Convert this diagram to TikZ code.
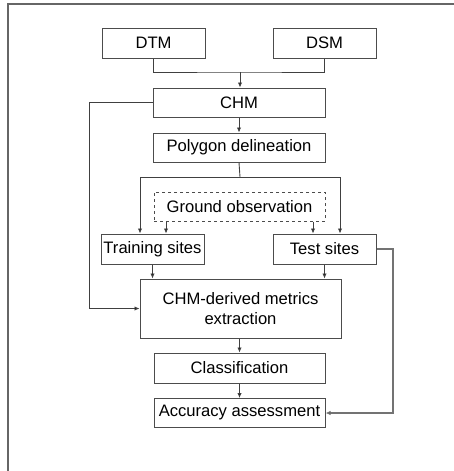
\documentclass[tikz,border=0pt]{standalone}
\usepackage{fontspec}
\setmainfont{Liberation Sans}
\usetikzlibrary{arrows.meta}
\begin{document}
\begin{tikzpicture}[x=1pt,y=-1pt,
  box/.style={draw=black!70,line width=1pt,inner sep=0pt,font=\fontsize{16.6}{19.5}\selectfont,align=center},
  conn/.style={draw=black!75,line width=0.9pt},
  arr/.style={conn,-{Latex[length=5pt,width=4.5pt,fill=black]}}]
\useasboundingbox (0,0) rectangle (454,471);
\draw[draw=black!60,line width=1.2pt] (454,4) -- (8,4) -- (8,471);
\node[box,minimum width=103,minimum height=30] (dtm) at (153.5,43) {DTM};
\node[box,minimum width=103,minimum height=30] (dsm) at (324.5,43) {DSM};
\node[box,minimum width=172,minimum height=29] (chm) at (239,102.5) {CHM};
\node[box,minimum width=172,minimum height=29] (poly) at (239,147.5) {Polygon delineation};
\node[box,dashed,minimum width=171,minimum height=29] (ground) at (239.5,206.5) {Ground observation};
\node[box,minimum width=103,minimum height=30] (train) at (152.5,249) {Training sites};
\node[box,minimum width=103,minimum height=30] (test) at (324.5,249) {Test sites};
\node[box,minimum width=201,minimum height=59] (metrics) at (240.5,308.5) {CHM-derived metrics\\extraction};
\node[box,minimum width=171,minimum height=30] (class) at (239.5,368) {Classification};
\node[box,minimum width=171,minimum height=29] (acc) at (239.5,413) {Accuracy assessment};
\coordinate (j) at (240,72);
\coordinate (s) at (240,177);
\coordinate (s1) at (140,177);
\coordinate (s2) at (340,177);
\coordinate (g1) at (166,0);
\coordinate (g2) at (313,0);
\coordinate (fb) at (89,0);
\coordinate (rt) at (393,0);
\draw[conn] (dtm.south) |- (j) -| (dsm.south);
\draw[arr] (j) -- (j |- chm.north);
\draw[arr] (chm.south) -- (poly.north);
\draw[conn] (poly.south) -- (s);
\draw[arr] (s) -- (s1) -- (s1 |- train.north);
\draw[arr] (s) -- (s2) -- (s2 |- test.north);
\draw[arr] (ground.south -| g1) -- (g1 |- train.north);
\draw[arr] (ground.south -| g2) -- (g2 |- test.north);
\draw[arr] (chm.west) -- (fb |- chm.west) -- (fb |- metrics.west) -- (metrics.west);
\draw[arr] (train.south) -- (train.south |- metrics.north);
\draw[arr] (test.south) -- (test.south |- metrics.north);
\draw[arr] (metrics.south -| class.north) -- (class.north);
\draw[arr] (class.south) -- (acc.north);
\draw[arr,line width=1.2pt,draw=black!55] (test.east) -- (rt |- test.east) -- (rt |- acc.east) -- (acc.east);
\end{tikzpicture}
\end{document}
